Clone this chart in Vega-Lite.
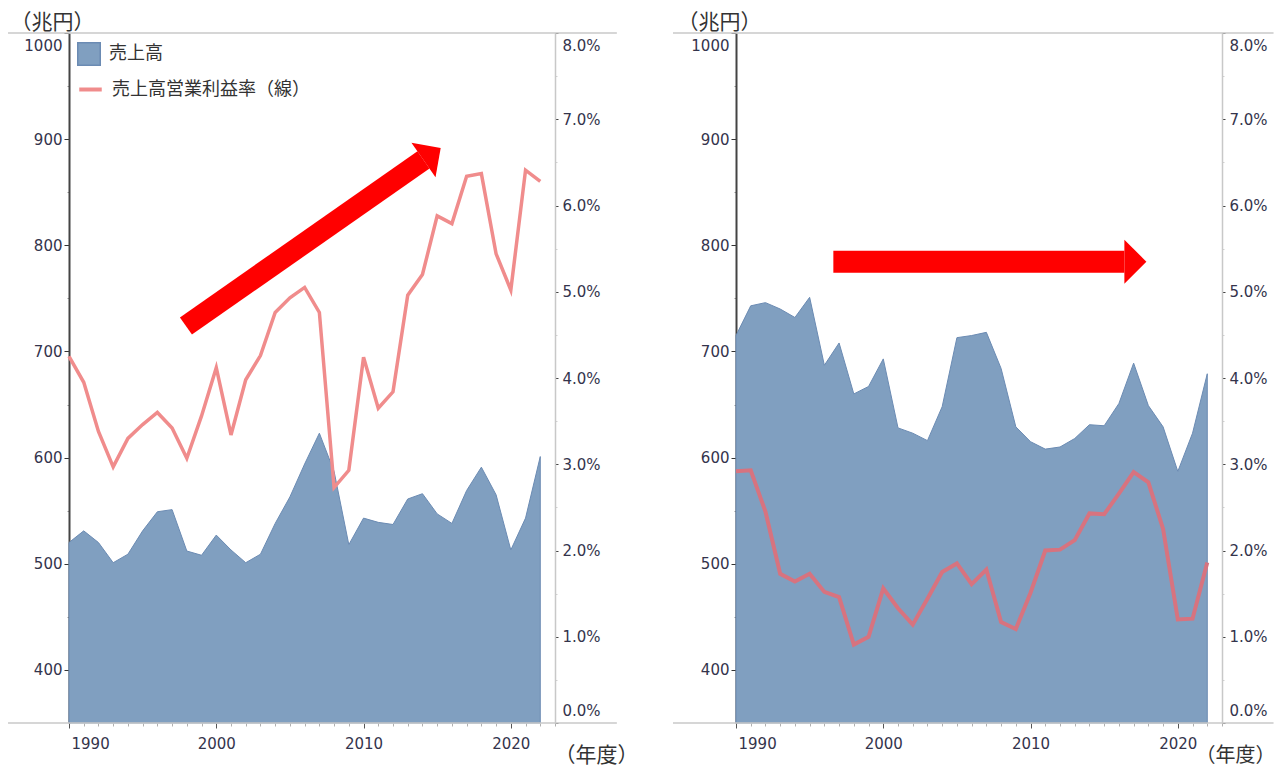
{
  "$schema": "https://vega.github.io/schema/vega-lite/v6.json",
  "padding": {"left": 7, "top": 11, "right": 0, "bottom": 12},
  "spacing": 34,
  "config": {
    "view": {"stroke": null},
    "font": "DejaVu Sans",
    "axis": {"grid": false, "labelFont": "DejaVu Sans", "labelFontSize": 15, "labelColor": "#34344c", "titleFont": "Noto Sans CJK JP", "titleFontSize": 21, "titleFontWeight": "normal", "titleColor": "#333333", "labelOverlap": false},
    "legend": {"orient": "none", "title": null, "padding": 0, "labelFont": "Noto Sans CJK JP", "labelFontSize": 18, "labelColor": "#333333", "labelOffset": 8, "labelLimit": 400, "symbolSize": 506, "symbolOpacity": 1}
  },
  "datasets": {
    "series": [
      {"panel":"L","year":1990,"sales":520,"margin":4.25},{"panel":"L","year":1991,"sales":531,"margin":3.95},{"panel":"L","year":1992,"sales":520,"margin":3.38},{"panel":"L","year":1993,"sales":501,"margin":2.97},{"panel":"L","year":1994,"sales":509,"margin":3.30},{"panel":"L","year":1995,"sales":531,"margin":3.46},{"panel":"L","year":1996,"sales":549,"margin":3.60},{"panel":"L","year":1997,"sales":551,"margin":3.42},{"panel":"L","year":1998,"sales":512,"margin":3.07},{"panel":"L","year":1999,"sales":508,"margin":3.56},{"panel":"L","year":2000,"sales":527,"margin":4.12},{"panel":"L","year":2001,"sales":513,"margin":3.34},{"panel":"L","year":2002,"sales":501,"margin":3.98},{"panel":"L","year":2003,"sales":509,"margin":4.26},{"panel":"L","year":2004,"sales":538,"margin":4.76},{"panel":"L","year":2005,"sales":563,"margin":4.93},{"panel":"L","year":2006,"sales":594,"margin":5.05},{"panel":"L","year":2007,"sales":623,"margin":4.76},{"panel":"L","year":2008,"sales":587,"margin":2.73},{"panel":"L","year":2009,"sales":518,"margin":2.93},{"panel":"L","year":2010,"sales":543,"margin":4.24},{"panel":"L","year":2011,"sales":539,"margin":3.65},{"panel":"L","year":2012,"sales":537,"margin":3.84},{"panel":"L","year":2013,"sales":561,"margin":4.96},{"panel":"L","year":2014,"sales":566,"margin":5.20},{"panel":"L","year":2015,"sales":547,"margin":5.88},{"panel":"L","year":2016,"sales":538,"margin":5.79},{"panel":"L","year":2017,"sales":569,"margin":6.34},{"panel":"L","year":2018,"sales":591,"margin":6.37},{"panel":"L","year":2019,"sales":565,"margin":5.44},{"panel":"L","year":2020,"sales":513,"margin":5.02},{"panel":"L","year":2021,"sales":543,"margin":6.41},{"panel":"L","year":2022,"sales":601,"margin":6.28},
      {"panel":"R","year":1990,"sales":715,"margin":2.92},{"panel":"R","year":1991,"sales":743,"margin":2.93},{"panel":"R","year":1992,"sales":746,"margin":2.45},{"panel":"R","year":1993,"sales":740,"margin":1.73},{"panel":"R","year":1994,"sales":732,"margin":1.64},{"panel":"R","year":1995,"sales":751,"margin":1.73},{"panel":"R","year":1996,"sales":687,"margin":1.52},{"panel":"R","year":1997,"sales":708,"margin":1.46},{"panel":"R","year":1998,"sales":660,"margin":0.91},{"panel":"R","year":1999,"sales":667,"margin":1.00},{"panel":"R","year":2000,"sales":693,"margin":1.56},{"panel":"R","year":2001,"sales":628,"margin":1.33},{"panel":"R","year":2002,"sales":623,"margin":1.14},{"panel":"R","year":2003,"sales":616,"margin":1.44},{"panel":"R","year":2004,"sales":648,"margin":1.75},{"panel":"R","year":2005,"sales":713,"margin":1.85},{"panel":"R","year":2006,"sales":715,"margin":1.61},{"panel":"R","year":2007,"sales":718,"margin":1.78},{"panel":"R","year":2008,"sales":684,"margin":1.17},{"panel":"R","year":2009,"sales":629,"margin":1.09},{"panel":"R","year":2010,"sales":615,"margin":1.51},{"panel":"R","year":2011,"sales":608,"margin":2.00},{"panel":"R","year":2012,"sales":610,"margin":2.01},{"panel":"R","year":2013,"sales":618,"margin":2.12},{"panel":"R","year":2014,"sales":631,"margin":2.43},{"panel":"R","year":2015,"sales":630,"margin":2.42},{"panel":"R","year":2016,"sales":651,"margin":2.66},{"panel":"R","year":2017,"sales":689,"margin":2.91},{"panel":"R","year":2018,"sales":649,"margin":2.79},{"panel":"R","year":2019,"sales":629,"margin":2.25},{"panel":"R","year":2020,"sales":587,"margin":1.20},{"panel":"R","year":2021,"sales":623,"margin":1.21},{"panel":"R","year":2022,"sales":679,"margin":1.86}
    ],
    "arrows": [
      {"panel":"L","part":"start","year":1997.94,"value":724},{"panel":"L","part":"end","year":2014.07,"value":880.4},
      {"panel":"R","part":"start","year":1996.61,"value":784.6},{"panel":"R","part":"end","year":2016.37,"value":784.6}
    ],
    "frame": [
      {"panel":"L","x1":1985.86,"x2":2027.2,"y":1000},{"panel":"L","x1":1985.86,"x2":2027.2,"y":350},
      {"panel":"R","x1":1985.72,"x2":2026.5,"y":1000},{"panel":"R","x1":1985.72,"x2":2026.5,"y":350}
    ]
  },
  "hconcat": [
    {
      "width": 486, "height": 690,
      "resolve": {"scale": {"y": "independent"}},
      "layer": [
        {
          "data": {"name": "series"},
          "transform": [{"filter": "datum.panel === 'L'"}],
          "mark": {"type": "area", "stroke": "#6b8bb3", "strokeWidth": 1, "opacity": 1, "fillOpacity": 1},
          "encoding": {
            "x": {"field": "year", "type": "quantitative", "scale": {"domain": [1990, 2023], "nice": false, "zero": false},
              "axis": {"values": [1990,1991,1992,1993,1994,1995,1996,1997,1998,1999,2000,2001,2002,2003,2004,2005,2006,2007,2008,2009,2010,2011,2012,2013,2014,2015,2016,2017,2018,2019,2020,2021,2022,2023],
                "tickCount": 200,
                "labelExpr": "datum.value % 10 === 0 ? format(datum.value, 'd') : ''",
                "labelOverlap": false, "labelBound": false,
                "domain": false,
                "tickSize": {"condition": {"test": "datum.value % 10 === 0", "value": 5}, "value": 3},
                "tickColor": {"condition": {"test": "datum.value % 10 === 0", "value": "#555555"}, "value": "#b0b0b0"},
                "labelPadding": 8, "labelFlush": true, "labelFlushOffset": -2,
                "title": "（年度）", "titleAngle": 0, "titleAlign": "center", "titleBaseline": "alphabetic", "titleX": 527, "titleY": 38}},
            "y": {"field": "sales", "type": "quantitative", "scale": {"domain": [350, 1000], "nice": false, "zero": false},
              "axis": {"orient": "left", "values": [400,450,500,550,600,650,700,750,800,850,900,950,1000],
                "tickCount": 200,
                "labelExpr": "datum.value % 100 === 0 ? format(datum.value, 'd') : ''",
                "labelOverlap": false,
                "domainColor": "#444444", "domainWidth": 2,
                "tickSize": {"condition": {"test": "datum.value % 100 === 0", "value": 5}, "value": 2},
                "tickColor": {"condition": {"test": "datum.value % 100 === 0", "value": "#333333"}, "value": "#999999"},
                "labelPadding": 2, "labelFlush": true, "labelFlushOffset": -5,
                "title": "（兆円）", "titleAngle": 0, "titleAlign": "center", "titleBaseline": "alphabetic", "titleX": -17, "titleY": -5}},
            "y2": {"datum": 350},
            "color": {"datum": "売上高", "type": "nominal",
              "scale": {"domain": ["売上高"], "range": ["#809fc0"]},
              "legend": {"orient": "none", "legendX": 8, "legendY": 9, "symbolType": "square"}}
          }
        },
        {
          "data": {"name": "frame"},
          "transform": [{"filter": "datum.panel === 'L'"}],
          "mark": {"type": "rule", "color": "#c8c8c8", "strokeWidth": 1.5},
          "encoding": {
            "x": {"field": "x1", "type": "quantitative", "scale": {"domain": [1990, 2023], "nice": false, "zero": false}},
            "x2": {"field": "x2"},
            "y": {"field": "y", "type": "quantitative", "scale": {"domain": [350, 1000], "nice": false, "zero": false}, "axis": null}
          }
        },
        {
          "data": {"name": "series"},
          "transform": [{"filter": "datum.panel === 'L'"}],
          "mark": {"type": "line", "strokeWidth": 3.5},
          "encoding": {
            "x": {"field": "year", "type": "quantitative", "scale": {"domain": [1990, 2023], "nice": false, "zero": false}},
            "y": {"field": "margin", "type": "quantitative", "scale": {"domain": [0, 8], "nice": false, "zero": false},
              "axis": {"orient": "right", "values": [0,0.5,1,1.5,2,2.5,3,3.5,4,4.5,5,5.5,6,6.5,7,7.5,8],
                "tickCount": 200,
                "labelExpr": "datum.value % 1 === 0 ? format(datum.value, '.1f') + '%' : ''",
                "labelOverlap": false,
                "domainColor": "#c8c8c8", "domainWidth": 1.5,
                "tickSize": {"condition": {"test": "datum.value % 1 === 0", "value": 3}, "value": 2},
                "tickColor": {"condition": {"test": "datum.value % 1 === 0", "value": "#444444"}, "value": "#d0d0d0"},
                "labelPadding": 4, "labelFlush": true, "labelFlushOffset": -5, "title": null}},
            "stroke": {"datum": "売上高営業利益率（線）", "type": "nominal",
              "scale": {"domain": ["売上高営業利益率（線）"], "range": ["#f08c8c"]},
              "legend": {"orient": "none", "legendX": 8, "legendY": 43, "symbolType": "stroke", "symbolStrokeWidth": 4}}
          }
        },
        {
          "data": {"name": "arrows"},
          "transform": [{"filter": "datum.panel === 'L'"}],
          "mark": {"type": "line", "color": "#ff0000", "strokeWidth": 21, "strokeCap": "butt"},
          "encoding": {
            "x": {"field": "year", "type": "quantitative", "scale": {"domain": [1990, 2023], "nice": false, "zero": false}},
            "y": {"field": "value", "type": "quantitative", "scale": {"domain": [350, 1000], "nice": false, "zero": false}, "axis": null}
          }
        },
        {
          "data": {"name": "arrows"},
          "transform": [{"filter": "datum.panel === 'L' && datum.part === 'end'"}],
          "mark": {"type": "point", "shape": "M0,-1L1,0L0,1Z", "filled": true, "color": "#ff0000", "opacity": 1, "size": 1764, "angle": -35},
          "encoding": {
            "x": {"field": "year", "type": "quantitative", "scale": {"domain": [1990, 2023], "nice": false, "zero": false}},
            "y": {"field": "value", "type": "quantitative", "scale": {"domain": [350, 1000], "nice": false, "zero": false}, "axis": null}
          }
        }
      ]
    },
    {
      "width": 486, "height": 690,
      "resolve": {"scale": {"y": "independent"}},
      "layer": [
        {
          "data": {"name": "series"},
          "transform": [{"filter": "datum.panel === 'R'"}],
          "mark": {"type": "area", "fill": "#809fc0", "stroke": "#6b8bb3", "strokeWidth": 1, "opacity": 1, "fillOpacity": 1},
          "encoding": {
            "x": {"field": "year", "type": "quantitative", "scale": {"domain": [1990, 2023], "nice": false, "zero": false},
              "axis": {"values": [1990,1991,1992,1993,1994,1995,1996,1997,1998,1999,2000,2001,2002,2003,2004,2005,2006,2007,2008,2009,2010,2011,2012,2013,2014,2015,2016,2017,2018,2019,2020,2021,2022,2023],
                "tickCount": 200,
                "labelExpr": "datum.value % 10 === 0 ? format(datum.value, 'd') : ''",
                "labelOverlap": false, "labelBound": false,
                "domain": false,
                "tickSize": {"condition": {"test": "datum.value % 10 === 0", "value": 5}, "value": 3},
                "tickColor": {"condition": {"test": "datum.value % 10 === 0", "value": "#555555"}, "value": "#b0b0b0"},
                "labelPadding": 8, "labelFlush": true, "labelFlushOffset": -2,
                "title": "（年度）", "titleFontSize": 20, "titleAngle": 0, "titleAlign": "center", "titleBaseline": "alphabetic", "titleX": 499, "titleY": 38}},
            "y": {"field": "sales", "type": "quantitative", "scale": {"domain": [350, 1000], "nice": false, "zero": false},
              "axis": {"orient": "left", "values": [400,450,500,550,600,650,700,750,800,850,900,950,1000],
                "tickCount": 200,
                "labelExpr": "datum.value % 100 === 0 ? format(datum.value, 'd') : ''",
                "labelOverlap": false,
                "domainColor": "#444444", "domainWidth": 2,
                "tickSize": {"condition": {"test": "datum.value % 100 === 0", "value": 5}, "value": 2},
                "tickColor": {"condition": {"test": "datum.value % 100 === 0", "value": "#333333"}, "value": "#999999"},
                "labelPadding": 2, "labelFlush": true, "labelFlushOffset": -5,
                "title": "（兆円）", "titleAngle": 0, "titleAlign": "center", "titleBaseline": "alphabetic", "titleX": -17, "titleY": -5}},
            "y2": {"datum": 350}
          }
        },
        {
          "data": {"name": "frame"},
          "transform": [{"filter": "datum.panel === 'R'"}],
          "mark": {"type": "rule", "color": "#c8c8c8", "strokeWidth": 1.5},
          "encoding": {
            "x": {"field": "x1", "type": "quantitative", "scale": {"domain": [1990, 2023], "nice": false, "zero": false}},
            "x2": {"field": "x2"},
            "y": {"field": "y", "type": "quantitative", "scale": {"domain": [350, 1000], "nice": false, "zero": false}, "axis": null}
          }
        },
        {
          "data": {"name": "series"},
          "transform": [{"filter": "datum.panel === 'R'"}],
          "mark": {"type": "line", "strokeWidth": 4, "color": "#d7737f"},
          "encoding": {
            "x": {"field": "year", "type": "quantitative", "scale": {"domain": [1990, 2023], "nice": false, "zero": false}},
            "y": {"field": "margin", "type": "quantitative", "scale": {"domain": [0, 8], "nice": false, "zero": false},
              "axis": {"orient": "right", "values": [0,0.5,1,1.5,2,2.5,3,3.5,4,4.5,5,5.5,6,6.5,7,7.5,8],
                "tickCount": 200,
                "labelExpr": "datum.value % 1 === 0 ? format(datum.value, '.1f') + '%' : ''",
                "labelOverlap": false,
                "domainColor": "#c8c8c8", "domainWidth": 1.5,
                "tickSize": {"condition": {"test": "datum.value % 1 === 0", "value": 3}, "value": 2},
                "tickColor": {"condition": {"test": "datum.value % 1 === 0", "value": "#444444"}, "value": "#d0d0d0"},
                "labelPadding": 4, "labelFlush": true, "labelFlushOffset": -5, "title": null}}
          }
        },
        {
          "data": {"name": "arrows"},
          "transform": [{"filter": "datum.panel === 'R'"}],
          "mark": {"type": "line", "color": "#ff0000", "strokeWidth": 22, "strokeCap": "butt"},
          "encoding": {
            "x": {"field": "year", "type": "quantitative", "scale": {"domain": [1990, 2023], "nice": false, "zero": false}},
            "y": {"field": "value", "type": "quantitative", "scale": {"domain": [350, 1000], "nice": false, "zero": false}, "axis": null}
          }
        },
        {
          "data": {"name": "arrows"},
          "transform": [{"filter": "datum.panel === 'R' && datum.part === 'end'"}],
          "mark": {"type": "point", "shape": "M0,-1L1,0L0,1Z", "filled": true, "color": "#ff0000", "opacity": 1, "size": 1936, "angle": 0},
          "encoding": {
            "x": {"field": "year", "type": "quantitative", "scale": {"domain": [1990, 2023], "nice": false, "zero": false}},
            "y": {"field": "value", "type": "quantitative", "scale": {"domain": [350, 1000], "nice": false, "zero": false}, "axis": null}
          }
        }
      ]
    }
  ]
}
